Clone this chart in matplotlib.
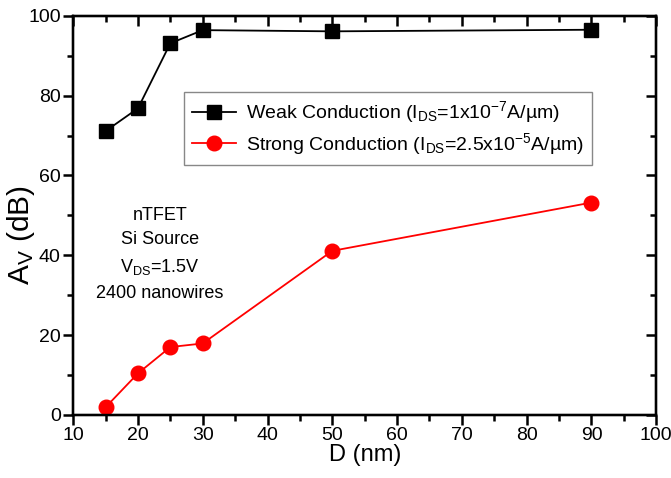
import matplotlib
matplotlib.use('Agg')
import matplotlib.pyplot as plt
from matplotlib.ticker import MultipleLocator

plt.rcParams['font.family'] = ['Liberation Sans', 'DejaVu Sans']
plt.rcParams['mathtext.fontset'] = 'custom'
plt.rcParams['mathtext.rm'] = 'Liberation Sans'
plt.rcParams['mathtext.it'] = 'Liberation Sans:italic'

# data
diam = [15, 20, 25, 30, 50, 90]
weak_av = [71.1, 76.8, 93.1, 96.4, 96.1, 96.5]
strong_av = [1.9, 10.4, 17.0, 17.9, 41.1, 53.2]

weak_label = 'Weak Conduction (I$_{\\mathrm{DS}}$=1x10$^{\\mathrm{-7}}$A/µm)'
strong_label = 'Strong Conduction (I$_{\\mathrm{DS}}$=2.5x10$^{\\mathrm{-5}}$A/µm)'
note = 'nTFET\nSi Source\nV$_{\\mathrm{DS}}$=1.5V\n2400 nanowires'

fig = plt.figure(figsize=(6.71, 4.78), dpi=100)
ax = fig.add_axes([0.109, 0.132, 0.869, 0.835])

ax.plot(diam, weak_av, color='black', lw=1.3, marker='s', ms=9.5, label=weak_label, zorder=3)
ax.plot(diam, strong_av, color='red', lw=1.3, marker='o', ms=10.5, label=strong_label, zorder=3)

ax.set_xlim(10, 100)
ax.set_ylim(0, 100)

ax.xaxis.set_major_locator(MultipleLocator(10))
ax.xaxis.set_minor_locator(MultipleLocator(5))
ax.yaxis.set_major_locator(MultipleLocator(20))
ax.yaxis.set_minor_locator(MultipleLocator(10))
for s in ax.spines.values():
    s.set_linewidth(1.6)
ax.tick_params(which='both', direction='out', width=1.8, labelsize=14, pad=2,
               top=False, right=False, color='black')
ax.tick_params(which='major', length=7)
ax.tick_params(which='minor', length=4)

# inward ticks on top and right via twin axes
axt = ax.twiny()
axt.set_xlim(ax.get_xlim())
axt.xaxis.set_major_locator(MultipleLocator(10))
axt.xaxis.set_minor_locator(MultipleLocator(5))
axt.tick_params(which='both', direction='in', width=1.8, labeltop=False)
axt.tick_params(which='major', length=7)
axt.tick_params(which='minor', length=4)
axr = ax.twinx()
axr.set_ylim(ax.get_ylim())
axr.yaxis.set_major_locator(MultipleLocator(20))
axr.yaxis.set_minor_locator(MultipleLocator(10))
axr.tick_params(which='both', direction='in', width=1.8, labelright=False)
axr.tick_params(which='major', length=7)
axr.tick_params(which='minor', length=4)
for a in (axt, axr):
    for s in a.spines.values():
        s.set_linewidth(1.6)

ax.set_xlabel('D (nm)', fontsize=17, labelpad=0)
ax.set_ylabel('A$_{\\mathrm{V}}$ (dB)', fontsize=21.5)
ax.yaxis.set_label_coords(-0.062, 0.45)

ax.text(0.149, 0.402, note, transform=ax.transAxes, ha='center', va='center',
        fontsize=13, linespacing=1.6)

leg = ax.legend(loc='upper left', bbox_to_anchor=(0.19, 0.81), borderaxespad=0,
                fontsize=14, fancybox=False, framealpha=1, edgecolor='#888888',
                handlelength=2.3, handletextpad=0.5, borderpad=0.4,
                labelspacing=0.3)
leg.get_frame().set_linewidth(1.0)

fig.savefig('out.png', dpi=100)
